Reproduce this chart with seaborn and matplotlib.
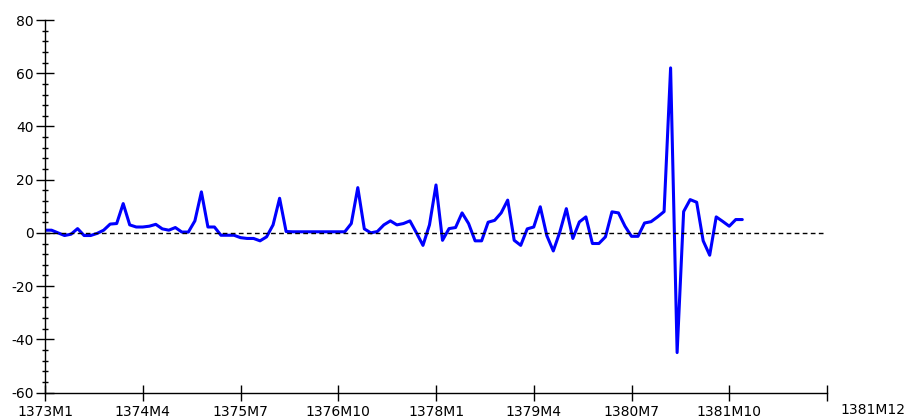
import numpy as np
import pandas as pd
import matplotlib
matplotlib.use("Agg")
import matplotlib.pyplot as plt
import seaborn as sns
from matplotlib.ticker import MultipleLocator, FixedLocator

# ---- data (monthly, starting 1373M1) ----
start_year = 1373
values = [
    1, 1, 0, -1, -0.5, 1.6, -1, -1, -0.2, 1, 3.3, 3.5,          # 1373
    11, 3, 2.2, 2.2, 2.5, 3.2, 1.5, 1, 2, 0.3, 0.3, 4.5,         # 1374
    15.4, 2.2, 2.2, -0.9, -0.9, -0.9, -1.8, -2.1, -2.1, -3, -1.5, 3,  # 1375
    13, 0.5, 0.4, 0.4, 0.4, 0.4, 0.4, 0.4, 0.4, 0.4, 0.4, 3.5,   # 1376
    17, 1.5, 0, 0.5, 3, 4.5, 3, 3.5, 4.5, 0, -4.7, 3,            # 1377
    18, -2.8, 1.6, 2, 7.5, 3.5, -3, -3, 4, 4.7, 7.5, 12.3,       # 1378
    -2.8, -4.7, 1.5, 2.2, 9.8, -1, -6.8, 0.3, 9.1, -2.1, 4.1, 6,  # 1379
    -4, -4, -1.5, 7.9, 7.5, 2.5, -1.3, -1.3, 3.7, 4.2, 6, 8,     # 1380
    62, -45, 8, 12.5, 11.5, -3, -8.4, 6, 4.3, 2.5, 5, 5,         # 1381
]
tick_labels = ["1373M1", "1374M4", "1375M7", "1376M10",
               "1378M1", "1379M4", "1380M7", "1381M10"]
end_label = "1381M12"
y_ticks = [-60, -40, -20, 0, 20, 40, 60, 80]

periods = [f"{start_year + i // 12}M{i % 12 + 1}" for i in range(len(values))]
df = pd.DataFrame({"period": periods, "t": np.arange(len(values)), "value": values})

sns.set_style("ticks")
plt.rcParams["font.family"] = ["DejaVu Sans"]
plt.rcParams["axes.unicode_minus"] = False

W, H = 914, 418
fig = plt.figure(figsize=(W / 100, H / 100), dpi=100)
ax = fig.add_axes([45 / W, 1 - 392.5 / H, (827 - 45) / W, (392.5 - 20) / H])

sns.lineplot(data=df, x="t", y="value", color="#0000FF", lw=2.2, ax=ax)
ax.axhline(0, xmin=0, xmax=0.995, color="black", lw=1.0, dashes=(3.4, 2.4))

ax.set_xlim(0, 120)
ax.set_ylim(min(y_ticks), max(y_ticks))

tick_pos = [periods.index(l) for l in tick_labels]
ax.xaxis.set_major_locator(FixedLocator(tick_pos + [ax.get_xlim()[1]]))
ax.set_xticklabels(tick_labels + [""])
ax.yaxis.set_major_locator(FixedLocator(y_ticks))
ax.yaxis.set_minor_locator(MultipleLocator(4))

ax.tick_params(axis="x", which="major", direction="inout", length=11, width=1,
               color="black", labelsize=10, pad=3.5, labelcolor="black")
ax.tick_params(axis="y", which="major", direction="inout", length=13, width=1,
               color="black", labelsize=10, pad=1.5, labelcolor="black")
ax.tick_params(axis="y", which="minor", direction="inout", length=5, width=1,
               color="black")

for s in ["top", "right"]:
    ax.spines[s].set_visible(False)
for s in ["left", "bottom"]:
    ax.spines[s].set_color("black")
    ax.spines[s].set_linewidth(1)

ax.set_xlabel("")
ax.set_ylabel("")
ax.annotate(end_label, xy=(1, 0), xycoords="axes fraction",
            xytext=(13, -17.5), textcoords="offset pixels",
            ha="left", va="center", fontsize=10, color="black")

fig.savefig("out.png", dpi=100)
